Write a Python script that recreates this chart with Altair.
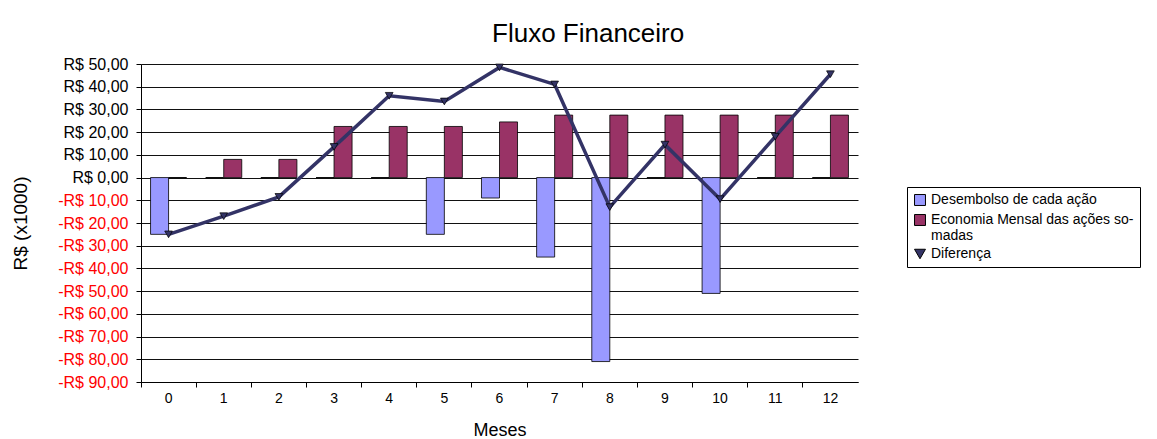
import altair as alt
import pandas as pd

# ---- data ----
meses = list(range(13))
desembolso = [-25, 0, 0, 0, 0, -25, -9, -35, -81, 0, -51, 0, 0]
economia = [0, 8, 8, 22.5, 22.5, 22.5, 24.5, 27.5, 27.5, 27.5, 27.5, 27.5, 27.5]
diferenca = [-25, -17, -8.5, 13.5, 36, 33.5, 48.5, 41, -13, 14.5, -9.5, 18, 45.5]
y_ticks = list(range(-90, 51, 10))

s1 = "Desembolso de cada ação"
s2 = "Economia Mensal das ações somadas"
s3 = "Diferença"
series = [s1, s2, s3]
colors = ["#9999FF", "#993366", "#333366"]
shapes = ["square", "square", "triangle-down"]

bars_df = pd.DataFrame({
    "Mês": meses * 2,
    "Valor": desembolso + economia,
    "Série": [s1] * len(meses) + [s2] * len(meses),
})
line_df = pd.DataFrame({"Mês": meses, "Valor": diferenca, "Série": [s3] * len(meses)})

FONT = "Liberation Sans"
W, H = 717, 318

x_enc = alt.X(
    "Mês:O",
    title="Meses",
    scale=alt.Scale(paddingInner=0, paddingOuter=0),
    axis=alt.Axis(
        labelAngle=0, bandPosition=0, grid=False,
        tickSize=5, domainColor="black", tickColor="black",
        labelFontSize=14, labelPadding=4, titleFontSize=18, titlePadding=16,
    ),
)
y_enc = alt.Y(
    "Valor:Q",
    title="R$ (x1000)",
    scale=alt.Scale(domain=[-90, 50], nice=False, zero=False),
    axis=alt.Axis(
        values=y_ticks,
        labelExpr="(datum.value < 0 ? '-' : '') + 'R$ ' + replace(format(abs(datum.value), '.2f'), '.', ',')",
        labelColor={"expr": "datum.value < 0 ? '#FF0000' : '#000000'"},
        labelFontSize=16, tickSize=5, labelPadding=8,
        domainColor="black", tickColor="black",
        gridColor="#111111", gridWidth=1,
        titleFontSize=19, titleFontWeight="normal", titlePadding=27,
    ),
)

legend = alt.Legend(
    title=None, orient="none", legendX=766, legendY=123,
    strokeColor="black", padding=6, labelFontSize=14, labelFont=FONT,
    symbolSize=120, symbolStrokeColor="black", symbolStrokeWidth=1,
    rowPadding=4, labelLimit=300,
    labelExpr="datum.label == 'Economia Mensal das ações somadas' ? ['Economia Mensal das ações so-', 'madas'] : datum.label",
)
color_enc = alt.Color("Série:N", scale=alt.Scale(domain=series, range=colors), legend=legend)
shape_enc = alt.Shape("Série:N", scale=alt.Scale(domain=series, range=shapes), legend=legend)

bars = alt.Chart(bars_df).mark_bar(stroke="black", strokeWidth=0.8).encode(
    x=x_enc,
    xOffset=alt.XOffset("Série:N", scale=alt.Scale(domain=[s1, s2], paddingInner=0, paddingOuter=0.53)),
    y=y_enc,
    color=color_enc,
)
line = alt.Chart(line_df).mark_line(color="#333366", strokeWidth=3.5).encode(x=x_enc, y=y_enc)
points = alt.Chart(line_df).mark_point(filled=True, size=60, stroke="black", strokeWidth=0.7, opacity=1).encode(
    x=x_enc, y=y_enc, color=color_enc, shape=shape_enc
)

chart = alt.layer(bars, line, points).properties(
    width=W, height=H,
    title=alt.TitleParams("Fluxo Financeiro", fontSize=26, fontWeight="normal", font=FONT,
                          anchor="middle", frame="bounds", offset=9, dx=12),
    padding={"left": 3, "top": 13, "right": 5, "bottom": 5},
).configure(font=FONT).configure_axis(
    labelFont=FONT, titleFont=FONT, titleFontWeight="normal", titleColor="black", labelColor="black"
).configure_view(stroke=None)

chart.save("out.html", embed_options={"renderer": "svg", "actions": False})
